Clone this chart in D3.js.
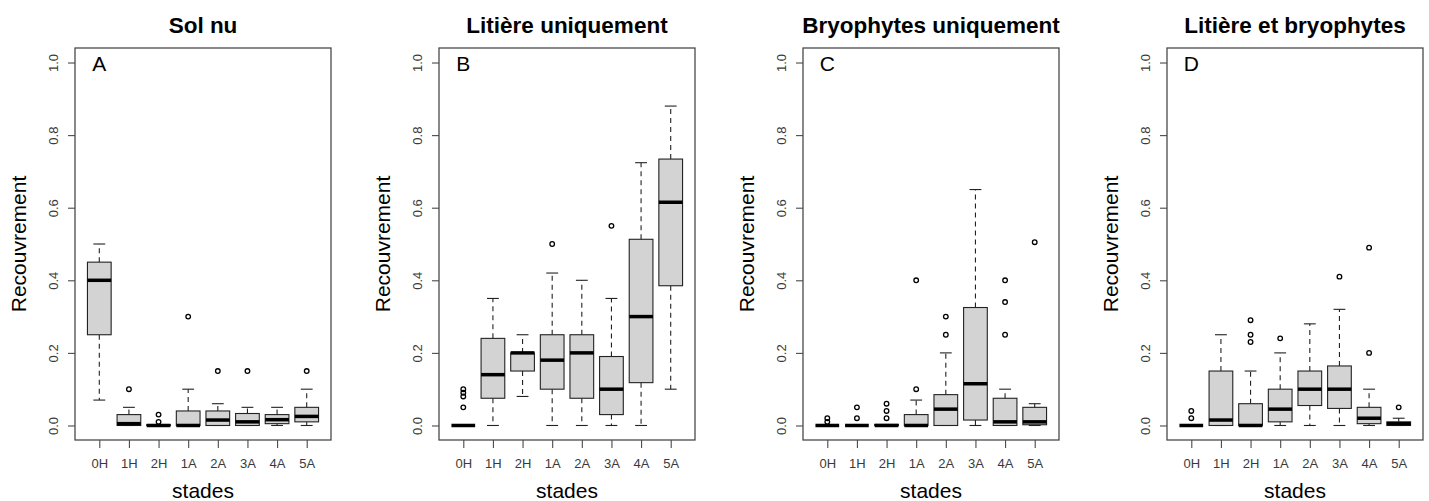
<!DOCTYPE html>
<html>
<head>
<meta charset="utf-8">
<script src="https://cdn.jsdelivr.net/npm/d3@7"></script>
<style>
  html, body { margin: 0; padding: 0; background: #fff; }
  svg { display: block; font-family: "Liberation Sans", Arial, Helvetica, sans-serif; }
</style>
</head>
<body>
<svg id="chart" width="1429" height="501"></svg>
<script>
// ---------- DATA ----------
const stades = ["0H", "1H", "2H", "1A", "2A", "3A", "4A", "5A"];
const yTicks = [0, 0.2, 0.4, 0.6, 0.8, 1.0];
const panelTitles = ["Sol nu", "Litière uniquement", "Bryophytes uniquement", "Litière et bryophytes"];
const panelLetters = ["A", "B", "C", "D"];
const xLabel = "stades";
const yLabel = "Recouvrement";

// [lower whisker, Q1, median, Q3, upper whisker] per stade
const solNuStats = [
  [0.07, 0.25, 0.40, 0.45, 0.50],
  [0, 0, 0.005, 0.03, 0.05],
  [0, 0, 0, 0.002, 0],
  [0, 0, 0, 0.04, 0.10],
  [0, 0, 0.015, 0.04, 0.06],
  [0, 0, 0.01, 0.033, 0.05],
  [0, 0.005, 0.016, 0.03, 0.05],
  [0, 0.01, 0.025, 0.05, 0.10]
];
const solNuOutliers = [[], [0.10], [0.03, 0.01], [0.30], [0.15], [0.15], [], [0.15]];

const litiereStats = [
  [0, 0, 0, 0, 0],
  [0, 0.075, 0.14, 0.24, 0.35],
  [0.08, 0.15, 0.20, 0.20, 0.25],
  [0, 0.10, 0.18, 0.25, 0.42],
  [0, 0.075, 0.20, 0.25, 0.40],
  [0, 0.03, 0.10, 0.19, 0.35],
  [0, 0.118, 0.30, 0.513, 0.724],
  [0.10, 0.385, 0.615, 0.734, 0.88]
];
const litiereOutliers = [[0.05, 0.08, 0.09, 0.10], [], [], [0.50], [], [0.55], [], []];

const bryoStats = [
  [0, 0, 0, 0, 0],
  [0, 0, 0, 0, 0],
  [0, 0, 0, 0.003, 0],
  [0, 0, 0, 0.03, 0.07],
  [0, 0, 0.045, 0.085, 0.20],
  [0, 0.015, 0.115, 0.325, 0.65],
  [0, 0, 0.01, 0.075, 0.10],
  [0, 0.002, 0.01, 0.05, 0.06]
];
const bryoOutliers = [[0.02, 0.01], [0.05, 0.02], [0.06, 0.04, 0.02], [0.40, 0.10], [0.30, 0.25], [], [0.40, 0.34, 0.25], [0.505]];

const litBryoStats = [
  [0, 0, 0, 0, 0],
  [0, 0, 0.015, 0.15, 0.25],
  [0, 0, 0, 0.06, 0.15],
  [0, 0.01, 0.045, 0.10, 0.20],
  [0, 0.055, 0.10, 0.15, 0.28],
  [0, 0.047, 0.10, 0.164, 0.32],
  [0, 0.005, 0.02, 0.05, 0.10],
  [0, 0, 0.005, 0.01, 0.02]
];
const litBryoOutliers = [[0.04, 0.02], [], [0.29, 0.25, 0.23], [0.24], [], [0.41], [0.49, 0.20], [0.05]];

const panelStats = [solNuStats, litiereStats, bryoStats, litBryoStats];
const panelOutliers = [solNuOutliers, litiereOutliers, bryoOutliers, litBryoOutliers];

// ---------- LAYOUT ----------
const firstLeft = 75, panelStep = 364, plotW = 256;
const plotTop = 48, plotBottom = 440;
const boxColor = "#d3d3d3", lineColor = "#222", frameColor = "#4a4a4a", textGray = "#3a3a3a";

const svg = d3.select("#chart");

panelTitles.forEach((title, p) => {
  const left = firstLeft + p * panelStep;
  const g = svg.append("g");

  // R-like scales: categories at 1..8, xlim 0.5..8.5 extended 4%
  const xLin = d3.scaleLinear().domain([0.5 - 0.32, 8.5 + 0.32]).range([left, left + plotW]);
  const x = d3.scalePoint().domain(stades).range([xLin(1), xLin(8)]);
  const y = d3.scaleLinear().domain([-0.04, 1.04]).range([plotBottom, plotTop]);
  const boxW = xLin(1.8) - xLin(1);
  const stapleW = boxW * 0.5;

  const stats = panelStats[p];
  const outs = panelOutliers[p];

  stades.forEach((s, i) => {
    const [lo, q1, med, q3, hi] = stats[i];
    const cx = x(s);
    // whiskers (dashed)
    g.append("line").attr("x1", cx).attr("x2", cx).attr("y1", y(q3)).attr("y2", y(hi))
      .attr("stroke", lineColor).attr("stroke-width", 1.1).attr("stroke-dasharray", "5,4");
    g.append("line").attr("x1", cx).attr("x2", cx).attr("y1", y(q1)).attr("y2", y(lo))
      .attr("stroke", lineColor).attr("stroke-width", 1.1).attr("stroke-dasharray", "5,4");
    // staples
    [lo, hi].forEach(v => {
      g.append("line").attr("x1", cx - stapleW / 2).attr("x2", cx + stapleW / 2)
        .attr("y1", y(v)).attr("y2", y(v))
        .attr("stroke", lineColor).attr("stroke-width", 1.1);
    });
    // box
    g.append("rect").attr("x", cx - boxW / 2).attr("width", boxW)
      .attr("y", y(q3)).attr("height", Math.max(0, y(q1) - y(q3)))
      .attr("fill", boxColor).attr("stroke", lineColor).attr("stroke-width", 1.1);
    // median
    g.append("line").attr("x1", cx - boxW / 2).attr("x2", cx + boxW / 2)
      .attr("y1", y(med)).attr("y2", y(med))
      .attr("stroke", "#000").attr("stroke-width", 3.5);
    // outliers
    outs[i].forEach(v => {
      g.append("circle").attr("cx", cx).attr("cy", y(v)).attr("r", 2.3)
        .attr("fill", "none").attr("stroke", "#000").attr("stroke-width", 1.3);
    });
  });

  // frame
  g.append("rect").attr("x", left).attr("y", plotTop).attr("width", plotW).attr("height", plotBottom - plotTop)
    .attr("fill", "none").attr("stroke", frameColor).attr("stroke-width", 1.3);

  // y axis
  const yAxis = g.append("g").attr("transform", `translate(${left},0)`)
    .call(d3.axisLeft(y).tickValues(yTicks).tickSize(7).tickFormat(d3.format(".1f")));
  yAxis.select(".domain").remove();
  yAxis.selectAll(".tick line").attr("stroke", frameColor).attr("stroke-width", 1.1);
  yAxis.selectAll(".tick text")
    .attr("transform", "rotate(-90)")
    .attr("x", 0).attr("y", -17).attr("dy", null)
    .attr("text-anchor", "middle")
    .attr("fill", textGray).style("font-size", "13px")
    .style("font-family", "'Liberation Sans', Arial, sans-serif");

  // x axis
  const xAxis = g.append("g").attr("transform", `translate(0,${plotBottom})`)
    .call(d3.axisBottom(x).tickSize(8).tickPadding(0));
  xAxis.select(".domain").remove();
  xAxis.selectAll(".tick line").attr("stroke", frameColor).attr("stroke-width", 1.1);
  xAxis.selectAll(".tick text")
    .attr("y", 28).attr("dy", null)
    .attr("fill", textGray).style("font-size", "13px")
    .style("font-family", "'Liberation Sans', Arial, sans-serif");

  // title
  g.append("text").attr("x", left + plotW / 2).attr("y", 33)
    .attr("text-anchor", "middle").style("font-weight", "bold").style("font-size", "22.5px")
    .attr("fill", "#000").text(title);

  // panel letter
  g.append("text").attr("x", x(stades[0])).attr("y", y(1.0) + 8)
    .attr("text-anchor", "middle").style("font-size", "21px").attr("fill", "#000")
    .text(panelLetters[p]);

  // axis labels
  g.append("text").attr("x", left + plotW / 2).attr("y", 498)
    .attr("text-anchor", "middle").style("font-size", "21px").attr("fill", "#000").text(xLabel);
  g.append("text").attr("transform", `translate(${left - 49},${(plotTop + plotBottom) / 2}) rotate(-90)`)
    .attr("text-anchor", "middle").style("font-size", "21px").attr("fill", "#000").text(yLabel);
});
</script>
</body>
</html>
